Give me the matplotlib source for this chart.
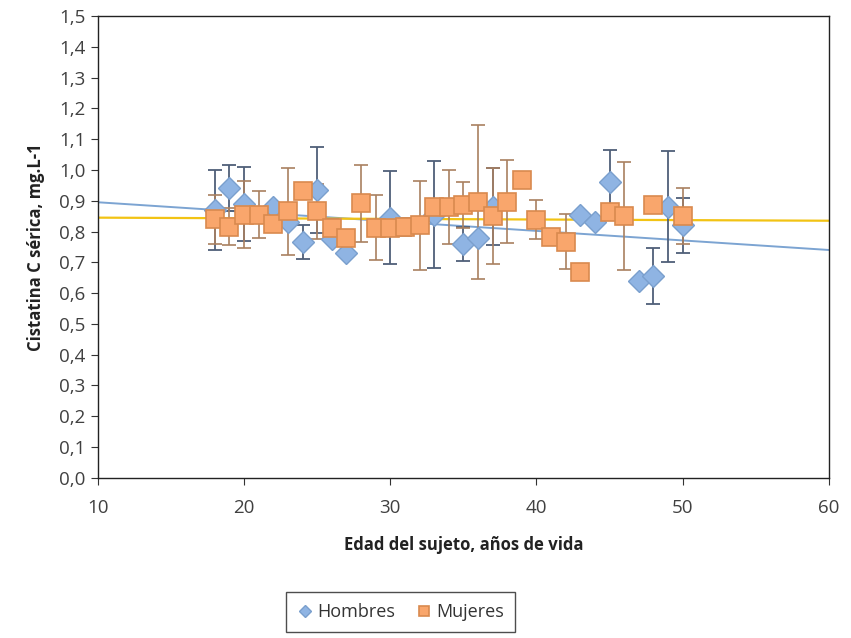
#!/usr/bin/env python3
"""Cistatina C serica vs edad, hombres y mujeres (media +/- DE) con lineas de tendencia."""

import matplotlib
matplotlib.use("Agg")
import matplotlib.pyplot as plt
import numpy as np

plt.rcParams["font.family"] = ["Open Sans", "DejaVu Sans"]

# Hombres: edad, media, desviacion
hombres_edad = [18, 19, 20, 22, 23, 24, 25, 26, 27, 30, 33, 35, 36, 37, 43, 44, 45, 47, 48, 49, 50]
hombres_media = [0.87, 0.94, 0.89, 0.88, 0.83, 0.765, 0.935, 0.775, 0.73, 0.845, 0.855, 0.76, 0.78,
                 0.88, 0.855, 0.83, 0.96, 0.64, 0.655, 0.88, 0.82]
hombres_de = [0.13, 0.075, 0.12, 0.0, 0.0, 0.055, 0.14, 0.0, 0.0, 0.15, 0.175, 0.055, 0.0,
              0.125, 0.0, 0.0, 0.105, 0.0, 0.09, 0.18, 0.09]

# Mujeres: edad, media, desviacion
mujeres_edad = [18, 19, 20, 21, 22, 23, 24, 25, 26, 27, 28, 29, 30, 31, 32, 33, 34, 35, 36, 37,
                38, 39, 40, 41, 42, 43, 45, 46, 48, 50]
mujeres_media = [0.84, 0.815, 0.855, 0.855, 0.825, 0.865, 0.93, 0.865, 0.81, 0.778, 0.892, 0.812,
                 0.812, 0.815, 0.82, 0.88, 0.88, 0.886, 0.897, 0.85, 0.897, 0.967, 0.838, 0.783,
                 0.767, 0.667, 0.862, 0.85, 0.885, 0.85]
mujeres_de = [0.08, 0.06, 0.11, 0.075, 0.0, 0.14, 0.0, 0.09, 0.03, 0.0, 0.125, 0.105, 0.0, 0.03,
              0.145, 0.0, 0.12, 0.075, 0.25, 0.155, 0.135, 0.0, 0.063, 0.0, 0.09, 0.0, 0.0, 0.175,
              0.0, 0.09]

# Lineas de tendencia (valor en x=10 y x=60)
tendencia_x = [10, 60]
tendencia_hombres = [0.895, 0.74]
tendencia_mujeres = [0.845, 0.835]

fig = plt.figure(figsize=(8.51, 6.38), dpi=100)
ax = fig.add_axes([0.115, 0.251, 0.859, 0.724])

ax.plot(tendencia_x, tendencia_hombres, color="#7ca4d2", lw=1.4, zorder=2)
ax.plot(tendencia_x, tendencia_mujeres, color="#f2c314", lw=1.6, zorder=2)

ax.errorbar(hombres_edad, hombres_media, yerr=hombres_de, fmt="none", ecolor="#4f5f78",
            elinewidth=1.3, capsize=5, capthick=1.3, zorder=3)
ax.errorbar(mujeres_edad, mujeres_media, yerr=mujeres_de, fmt="none", ecolor="#a98060",
            elinewidth=1.2, capsize=5, capthick=1.2, zorder=3)

ax.plot(hombres_edad, hombres_media, ls="none", marker="D", markersize=11,
        markerfacecolor="#8fb4e3", markeredgecolor="#7a9fcd", markeredgewidth=1,
        label="Hombres", zorder=4)
ax.plot(mujeres_edad, mujeres_media, ls="none", marker="s", markersize=12.5,
        markerfacecolor="#f9a66c", markeredgecolor="#d98a4f", markeredgewidth=1.2,
        label="Mujeres", zorder=5)

ax.set_xlim(10, 60)
ax.set_ylim(0, 1.5)
ax.set_xticks(np.arange(10, 61, 10))
ax.set_yticks(np.arange(0, 1.51, 0.1))
ax.set_yticklabels([f"{v:.1f}".replace(".", ",") for v in np.arange(0, 1.51, 0.1)])
ax.tick_params(axis="both", labelsize=13.5, colors="#333333", labelcolor="#404040",
               direction="out", length=5)
ax.tick_params(axis="y", pad=4)
ax.tick_params(axis="x", pad=10)
for s in ax.spines.values():
    s.set_color("#222222")
    s.set_linewidth(1.0)

ax.set_xlabel("Edad del sujeto, años de vida", fontsize=12, fontweight="bold",
              color="#222222", labelpad=14)
ax.set_ylabel("Cistatina C sérica, mg.L-1", fontsize=12, fontweight="bold",
              color="#222222", labelpad=10)

handles, labels = ax.get_legend_handles_labels()
leg = fig.legend(handles, labels, loc="center", bbox_to_anchor=(0.471, 0.041), ncol=2,
                 fontsize=13, frameon=True, fancybox=False, markerscale=0.6,
                 handlelength=0.8, handletextpad=0.3, columnspacing=1.2, borderpad=0.6,
                 labelcolor="#333333")
leg.get_frame().set_edgecolor("#222222")
leg.get_frame().set_linewidth(1.0)

fig.savefig("out.png", dpi=100)
